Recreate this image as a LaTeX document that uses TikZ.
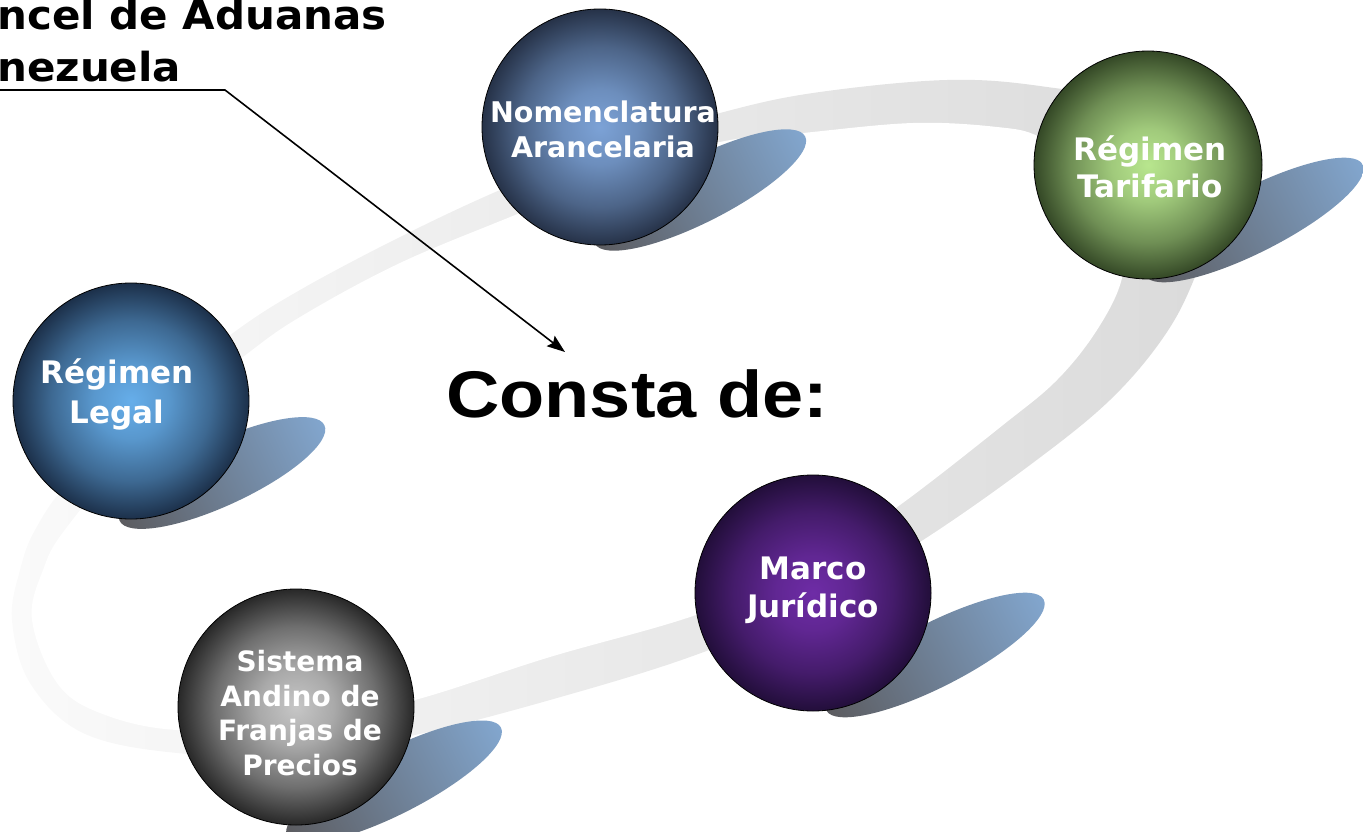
\documentclass[tikz,border=0pt]{standalone}
\usepackage{fontspec}
\setmainfont{DejaVu Sans}
\newfontfamily\spherefont{DejaVu Sans}
\newfontfamily\headfont{DejaVu Sans}[FakeStretch=1.05]
\newfontfamily\constafont{Liberation Sans}[FakeStretch=1.12]
\usetikzlibrary{arrows.meta}
\definecolor{ringL}{RGB}{250,250,250}
\definecolor{ringR}{RGB}{218,218,218}
\definecolor{shD}{RGB}{92,92,96}
\definecolor{shL}{RGB}{130,166,206}
\definecolor{nomIn}{RGB}{124,162,214}
\definecolor{nomOut}{RGB}{38,50,72}
\definecolor{tarIn}{RGB}{184,230,142}
\definecolor{tarOut}{RGB}{52,72,38}
\definecolor{legIn}{RGB}{102,174,234}
\definecolor{legOut}{RGB}{28,48,74}
\definecolor{sisIn}{RGB}{198,198,198}
\definecolor{sisOut}{RGB}{40,40,40}
\definecolor{marIn}{RGB}{110,44,166}
\definecolor{marOut}{RGB}{34,14,58}
\colorlet{sphin}{white}
\colorlet{sphout}{black}
\pgfdeclareradialshading[sphin,sphout]{sphereshade}{\pgfpointorigin}{color(0bp)=(sphin); color(8bp)=(sphin!82!sphout); color(17bp)=(sphin!45!sphout); color(25bp)=(sphout); color(50bp)=(sphout)}
\tikzset{
  sphere/.style 2 args={circle, minimum size=236pt, inner sep=0pt, draw=black, line width=0.8pt,
     /utils/exec={\colorlet{sphin}{#1}\colorlet{sphout}{#2}}, shade, shading=sphereshade},
  stext/.style 2 args={text=white, font=\spherefont\bfseries\fontsize{#1}{#2}\selectfont, align=center, inner sep=0pt},
  shadowfill/.style={left color=shD, right color=shL},
  headtext/.style={font=\headfont\bfseries\fontsize{40}{52}\selectfont, inner sep=0pt, anchor=base west},
  callout/.style={line width=1.6pt, -{Stealth[length=18pt, width=13pt, inset=3pt]}}
}
\begin{document}
\begin{tikzpicture}[x=1pt, y=1pt]
\useasboundingbox (0,0) rectangle (1363,-832);
\clip (0,0) rectangle (1363,-832);
% ring
\shade[left color=ringL, right color=ringR] plot[smooth cycle, tension=0.6] coordinates {
 (12,-620) (20,-570) (35,-530) (70,-480) (150,-400) (233,-333) (300,-290) (400,-237) (500,-190) (610,-146) (720,-113) (813,-93) (947,-80) (1047,-87) (1160,-110) (1228,-180) (1197,-272) (1165,-335) (1110,-400) (1030,-465) (923,-540) (810,-607) (690,-657) (550,-700) (415,-735) (300,-755) (177,-753) (83,-733) (30,-683)};
\fill[white] plot[smooth cycle, tension=0.6] coordinates {
 (32,-620) (43,-570) (67,-527) (150,-430) (243,-357) (300,-317) (400,-263) (520,-213) (620,-172) (720,-142) (803,-133) (913,-123) (997,-127) (1040,-137) (1095,-172) (1122,-225) (1122,-278) (1097,-330) (1057,-380) (1003,-425) (900,-505) (800,-573) (690,-617) (550,-657) (415,-700) (300,-725) (177,-730) (100,-713) (57,-683)};
% shadows
\begin{scope}[transform canvas={shift={(700,-190)}, rotate=27}]
 \shade[shadowfill] (0,0) ellipse (118 and 32);
\end{scope}
\begin{scope}[transform canvas={shift={(1254,-220)}, rotate=27}]
 \shade[shadowfill] (0,0) ellipse (122 and 32);
\end{scope}
\begin{scope}[transform canvas={shift={(222,-473)}, rotate=25}]
 \shade[shadowfill] (0,0) ellipse (113 and 32);
\end{scope}
\begin{scope}[transform canvas={shift={(394,-782)}, rotate=27}]
 \shade[shadowfill] (0,0) ellipse (120 and 32);
\end{scope}
\begin{scope}[transform canvas={shift={(935,-655)}, rotate=27}]
 \shade[shadowfill] (0,0) ellipse (122 and 32);
\end{scope}
% spheres
\node[sphere={nomIn}{nomOut}] (nom) at (600,-127) {};
\node[sphere={tarIn}{tarOut}, minimum size=228pt] (tar) at (1148,-165) {};
\node[sphere={legIn}{legOut}] (leg) at (131,-401) {};
\node[sphere={sisIn}{sisOut}] (sis) at (296,-707) {};
\node[sphere={marIn}{marOut}] (mar) at (813,-593) {};
% sphere texts
\node[stext={28.5}{35}] (nomT) at (603,-129.5) {Nomenclatura\\Arancelaria};
\node[stext={31}{37}] (tarT) at (1150,-166.5) {Régimen\\Tarifario};
\node[stext={31}{40}] (legT) at (117,-394.5) {Régimen\\Legal};
\node[stext={28}{34.5}] (sisT) at (300,-713) {Sistema\\Andino de\\Franjas de\\Precios};
\node[stext={31}{38}] (marT) at (813,-590.5) {Marco\\Jurídico};
% center text
\node[font=\constafont\bfseries\fontsize{66}{70}\selectfont, inner sep=0pt, anchor=base west] (consta) at (446,-417) {Consta de:};
% heading
\node[headtext] (h1) at (-3,-30) {ncel de Aduanas};
\node[headtext] (h2) at (-3,-82) {nezuela};
% callout
\coordinate (cs) at (0,-90);
\coordinate (cb) at (225,-90);
\coordinate (ct) at (565,-352);
\draw[callout] (cs) -- (cb) -- (ct);
\end{tikzpicture}
\end{document}
